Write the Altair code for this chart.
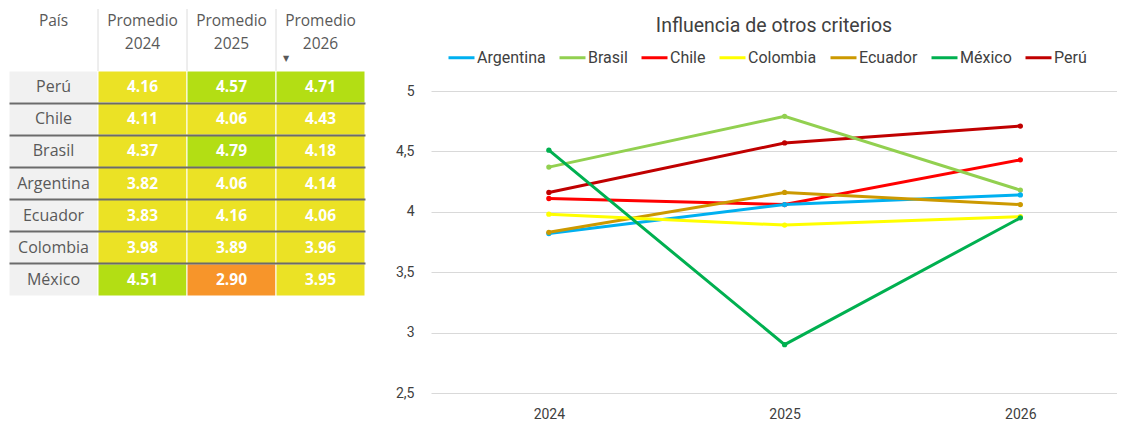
import altair as alt
import pandas as pd

# ---------------- data ----------------
paises = ["Perú", "Chile", "Brasil", "Argentina", "Ecuador", "Colombia", "México"]
prom_2024 = [4.16, 4.11, 4.37, 3.82, 3.83, 3.98, 4.51]
prom_2025 = [4.57, 4.06, 4.79, 4.06, 4.16, 3.89, 2.90]
prom_2026 = [4.71, 4.43, 4.18, 4.14, 4.06, 3.96, 3.95]
anios = [2024, 2025, 2026]
columnas = ["País", "Promedio 2024", "Promedio 2025", "Promedio 2026"]
encabezados = ["País", "Promedio\n2024", "Promedio\n2025", "Promedio\n2026"]
columna_ordenada = ["Promedio 2026"]
series_orden = ["Argentina", "Brasil", "Chile", "Colombia", "Ecuador", "México", "Perú"]
series_colores = ["#00b0f0", "#92d050", "#ff0000", "#ffff00", "#cc9900", "#00b050", "#c00000"]
umbrales = [3.0, 4.5]
umbral_colores = ["#f7952a", "#ebe225", "#b3de14"]
ticks_y = [2.5, 3, 3.5, 4, 4.5, 5]

valores = [prom_2024, prom_2025, prom_2026]

# ---------------- tables ----------------
celdas = pd.DataFrame([
    {"pais": p, "col": columnas[j + 1], "valor": valores[j][i]}
    for j in range(3) for i, p in enumerate(paises)
])
celdas_pais = pd.DataFrame({"pais": paises, "col": "País"})
cabecera = pd.DataFrame({"col": columnas, "etiqueta": encabezados})
separadores = pd.DataFrame({"col": columnas[1:]})
orden = pd.DataFrame({"col": columna_ordenada})

lineas = pd.DataFrame([
    {"pais": p, "anio": anios[j], "valor": valores[j][i]}
    for i, p in enumerate(paises) for j in range(3)
])

FT = "Open Sans"
FC = "Roboto"
TW = 356

col_scale = alt.Scale(domain=columnas, paddingInner=0, paddingOuter=0)
row_scale = alt.Scale(domain=paises, paddingInner=0, paddingOuter=0)

x_enc = alt.X("col:N", scale=col_scale, axis=None)
x_edge = alt.X("col:N", scale=col_scale, axis=None, bandPosition=0)
y_enc = alt.Y(
    "pais:N", scale=row_scale, sort=paises,
    axis=alt.Axis(
        title=None, labels=False, ticks=False, domain=False, grid=True,
        gridColor={"condition": {"test": "datum.value === 'Perú'", "value": "transparent"},
                   "value": "#6b6b6b"},
        gridWidth=2, bandPosition=0, zindex=1,
    ),
)

# header (drawn above the table body)
head_text = alt.Chart(cabecera).mark_text(
    lineBreak="\n", baseline="top", fontSize=15.5, font=FT, color="#595959", lineHeight=23
).encode(x=x_enc, y=alt.value(-57), text="etiqueta:N")
head_sep = alt.Chart(separadores).mark_rule(color="#dcdcdc", strokeWidth=1).encode(
    x=x_edge, y=alt.value(-62), y2=alt.value(0)
)
head_sort = alt.Chart(orden).mark_text(
    text="▼", fontSize=8, font="DejaVu Sans", color="#595959", align="left", dx=7
).encode(x=x_edge, y=alt.value(-12))

# body
rect_pais = alt.Chart(celdas_pais).mark_rect(
    fill="#f1f1f1", stroke="white", strokeWidth=1
).encode(x=x_enc, y=y_enc)
text_pais = alt.Chart(celdas_pais).mark_text(
    fontSize=16, font=FT, color="#595959"
).encode(x=x_enc, y=y_enc, text="pais:N")
rect_val = alt.Chart(celdas).mark_rect(stroke="white", strokeWidth=1).encode(
    x=x_enc, y=y_enc,
    fill=alt.Fill("valor:Q", scale=alt.Scale(type="threshold", domain=umbrales, range=umbral_colores),
                  legend=None),
)
text_val = alt.Chart(celdas).mark_text(
    fontSize=15.5, font=FT, fontWeight="bold", color="white"
).encode(x=x_enc, y=y_enc, text=alt.Text("valor:Q", format=".2f"))

tabla = alt.layer(
    rect_pais, rect_val, text_pais, text_val, head_sep, head_text, head_sort
).properties(width=TW, height=225)

# ---------------- line chart ----------------
base = alt.Chart(lineas).encode(
    x=alt.X("anio:Q",
            scale=alt.Scale(domain=[2023.5, 2026.41], nice=False, zero=False),
            axis=alt.Axis(values=anios, format="d", title=None, grid=False, domain=False,
                          ticks=False, labelFontSize=14, labelFont=FC, labelColor="#404040",
                          labelPadding=14)),
    y=alt.Y("valor:Q",
            scale=alt.Scale(domain=[2.5, 5.1656], nice=False, zero=False),
            axis=alt.Axis(values=ticks_y, labelExpr="replace(format(datum.value, ''), '.', ',')",
                          title=None, domain=False, ticks=False, gridColor="#d9d9d9",
                          labelFontSize=14, labelFont=FC, labelColor="#404040", labelPadding=17)),
    color=alt.Color("pais:N", sort=series_orden,
                    scale=alt.Scale(domain=series_orden, range=series_colores),
                    legend=alt.Legend(title=None, orient="none", direction="horizontal",
                                      legendX=16, legendY=-28, symbolType="stroke",
                                      symbolStrokeWidth=3, symbolSize=676, labelFontSize=16,
                                      labelFont=FC, labelColor="#404040", columnPadding=7,
                                      labelOffset=1)),
)
lines = base.mark_line(strokeWidth=3)
points = base.mark_circle(size=28, opacity=1)

grafico = alt.layer(lines, points).properties(
    width=686, height=322,
    title=alt.TitleParams("Influencia de otros criterios", fontSize=19.5, font=FC,
                          fontWeight="normal", color="#404040", anchor="middle", offset=7),
)

chart = alt.hconcat(tabla, grafico, spacing=29).resolve_scale(
    color="independent", fill="independent", x="independent", y="independent"
).properties(padding=0).configure_view(stroke=None)

chart.save("out.html", embed_options={"renderer": "svg", "actions": False})
